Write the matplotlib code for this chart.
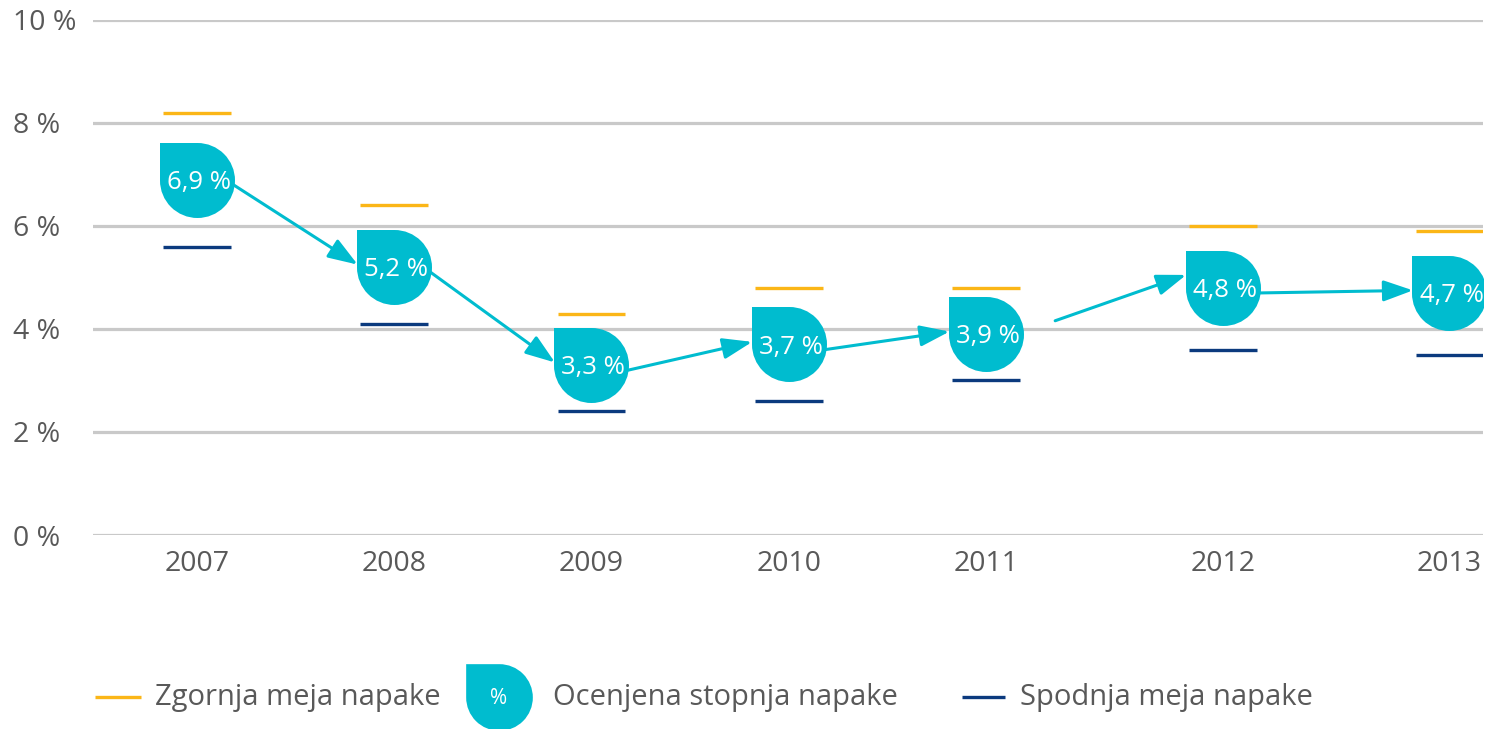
import numpy as np
import matplotlib
matplotlib.use("Agg")
import matplotlib.pyplot as plt
from matplotlib.path import Path

plt.rcParams['font.family'] = ['Open Sans', 'DejaVu Sans']

years = ['2007', '2008', '2009', '2010', '2011', '2012', '2013']
upper = [8.2, 6.4, 4.3, 4.8, 4.8, 6.0, 5.9]
estimate = [6.9, 5.2, 3.3, 3.7, 3.9, 4.8, 4.7]
lower = [5.6, 4.1, 2.4, 2.6, 3.0, 3.6, 3.5]

# layout: positions of the years on the x axis (gap before 2012 in the original)
xpos = [0, 1, 2, 3, 4, 5.2, 6.35]

yellow = '#fbb617'
navy = '#0b3a7e'
cyan = '#00bccf'
grid_c = '#c9c9c9'
text_c = '#595959'

# teardrop marker: square top-left corner, round elsewhere
def drop_path():
    arc = Path.arc(-90, 90)
    arc2 = Path.arc(180, 270)
    verts = [(-1, 1), (0, 1)]
    codes = [Path.MOVETO, Path.LINETO]
    v = arc.vertices[::-1]
    verts += list(v[1:])
    codes += [Path.CURVE4] * (len(v) - 1)
    v2 = arc2.vertices[::-1]
    verts += list(v2[1:])
    codes += [Path.CURVE4] * (len(v2) - 1)
    verts += [(-1, 1), (-1, 1)]
    codes += [Path.LINETO, Path.CLOSEPOLY]
    return Path(np.array(verts), codes)

drop = drop_path()

W, H = 1493, 729
fig = plt.figure(figsize=(W / 100, H / 100), dpi=100)
ax = fig.add_axes([93 / W, 1 - 535 / H, (1483 - 93) / W, (535 - 20) / H])
ax.set_xlim(-0.527, 6.52)
ax.set_ylim(0, 10)

for v in range(0, 11, 2):
    ax.axhline(v, color=grid_c, lw=2.3, zorder=0)

hw = 0.172
for x, u, l in zip(xpos, upper, lower):
    ax.plot([x - hw, x + hw], [u, u], color=yellow, lw=2.4, solid_capstyle='butt', zorder=2)
    ax.plot([x - hw, x + hw], [l, l], color=navy, lw=2.4, solid_capstyle='butt', zorder=2)

# arrows between estimates
mw = 0.185
for i in range(len(years) - 1):
    x0, y0 = xpos[i] + mw, estimate[i] - 0.1
    x1, y1 = xpos[i + 1] - mw, estimate[i + 1] + 0.05
    if years[i] == '2011':
        t = 0.2
        x0, y0 = x0 + (x1 - x0) * t, y0 + (y1 - y0) * t + 0.15
        y1 += 0.2
    ax.annotate('', xy=(x1, y1), xytext=(x0, y0),
                arrowprops=dict(arrowstyle='-|>,head_length=0.9,head_width=0.32',
                                color=cyan, lw=2.2, mutation_scale=20,
                                shrinkA=0, shrinkB=0),
                zorder=3)

ax.plot(xpos, estimate, ls='none', marker=drop, markersize=54,
        color=cyan, markeredgewidth=0, zorder=4)
for x, v in zip(xpos, estimate):
    ax.text(x + 0.01, v - 0.05, ('%.1f %%' % v).replace('.', ','), color='white',
            ha='center', va='center', fontsize=18.5, zorder=5)

ax.set_yticks(range(0, 11, 2))
ax.set_yticklabels(['%d %%' % v for v in range(0, 11, 2)])
for lab in ax.get_yticklabels():
    lab.set_horizontalalignment('left')
ax.set_xticks(xpos)
ax.set_xticklabels(years)
ax.tick_params(axis='y', length=0, pad=57.6, labelsize=20.5, labelcolor=text_c)
ax.tick_params(axis='x', length=0, pad=11, labelsize=20.5, labelcolor=text_c)
for s in ax.spines.values():
    s.set_visible(False)

# legend drawn in pixel coordinates
lg = fig.add_axes([0, 0, 1, 1])
lg.set_xlim(0, W)
lg.set_ylim(H, 0)
lg.axis('off')
ly = 697
lg.plot([95, 141], [ly, ly], color=yellow, lw=2.4, solid_capstyle='butt')
lg.text(155, ly, 'Zgornja meja napake', fontsize=21, color=text_c, va='center')
lg.plot([499], [697], marker=drop, markersize=48, color=cyan, markeredgewidth=0, clip_on=False)
lg.text(499, 698, '%', fontsize=15, color='white', ha='center', va='center')
lg.text(553, ly, 'Ocenjena stopnja napake', fontsize=21, color=text_c, va='center')
lg.plot([962, 1005], [ly, ly], color=navy, lw=2.4, solid_capstyle='butt')
lg.text(1020, ly, 'Spodnja meja napake', fontsize=21, color=text_c, va='center')

fig.savefig('out.png', dpi=100)
